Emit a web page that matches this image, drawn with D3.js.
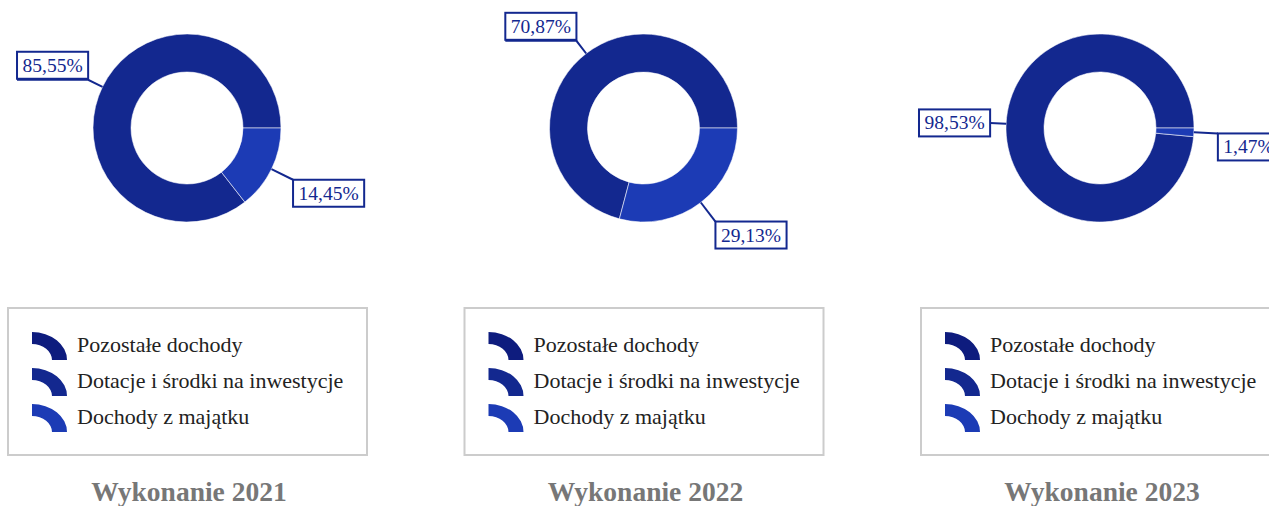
<!DOCTYPE html>
<html>
<head>
<meta charset="utf-8">
<script src="https://cdn.jsdelivr.net/npm/d3@7"></script>
<style>
  body { margin: 0; background: #fff; }
  svg { display: block; font-family: "Liberation Serif", "Times New Roman", serif; }
</style>
</head>
<body>
<div class="canvas"></div>
<script>
const years = ["2021", "2022", "2023"];
const categories = ["Pozostałe dochody", "Dotacje i środki na inwestycje", "Dochody z majątku"];
const pozostale = [0, 0, 0];
const dotacje = [85.55, 70.87, 98.53];
const majatek = [14.45, 29.13, 1.47];
const colors = ["#0e1c7e", "#13288f", "#1c3bb5"];

const width = 1269, height = 506;
const svg = d3.select(".canvas").append("svg").attr("width", width).attr("height", height);

const xScale = d3.scalePoint().domain(years).range([187, 1100]);
const color = d3.scaleOrdinal().domain(categories).range(colors);

const outerR = 94, innerR = 56, cy = 128;
const arc = d3.arc().innerRadius(innerR).outerRadius(outerR);
const pie = d3.pie().sort(null).value((d) => d.value)
  .startAngle(Math.PI / 2).endAngle(Math.PI / 2 - 2 * Math.PI);

const fmt = (v) => v.toFixed(2).replace(".", ",") + "%";

years.forEach((year, i) => {
  const cx = xScale(year);
  const data = [
    { name: categories[0], value: pozostale[i] },
    { name: categories[1], value: dotacje[i] },
    { name: categories[2], value: majatek[i] },
  ];
  const g = svg.append("g").attr("transform", `translate(${cx},${cy})`);
  const arcs = pie(data);

  g.selectAll("path.slice").data(arcs.filter((d) => d.data.value > 0)).enter()
    .append("path")
    .attr("class", "slice")
    .attr("d", arc)
    .attr("fill", (d) => color(d.data.name))
    .attr("stroke", "rgba(255,255,255,0.55)")
    .attr("stroke-width", 1);

  // labels
  arcs.filter((d) => d.data.value > 0).forEach((d) => {
    const a = (d.startAngle + d.endAngle) / 2;
    const ux = Math.sin(a), uy = -Math.cos(a);
    const right = ux > 0;
    const rEnd = right ? 118 : 110;
    const p0 = [ux * outerR, uy * outerR];
    const p1 = [ux * rEnd, uy * rEnd];

    const lg = g.append("g");
    const txt = lg.append("text")
      .attr("font-size", 19.5)
      .attr("fill", "#13288f")
      .attr("text-anchor", "middle")
      .text(fmt(d.data.value));
    const tw = txt.node().getComputedTextLength();
    const bw = tw + 11, bh = 27;
    let bx, by, under = false;
    if (right) {
      bx = p1[0];
      by = p1[1];
    } else {
      bx = p1[0] - bw;
      if (uy < -0.3) { by = p1[1] - bh - 1; under = true; }
      else by = p1[1] - bh / 2;
    }
    const pts = [p0, p1];
    if (under) pts.push([bx, p1[1]]);
    lg.insert("path", "text")
      .attr("d", d3.line()(pts))
      .attr("fill", "none")
      .attr("stroke", "#13288f")
      .attr("stroke-width", 2);
    lg.insert("rect", "text")
      .attr("x", bx).attr("y", by)
      .attr("width", bw).attr("height", bh)
      .attr("fill", "#fff")
      .attr("stroke", "#13288f")
      .attr("stroke-width", 2);
    txt.attr("x", bx + bw / 2).attr("y", by + bh / 2 + 6.5);
  });

  // legend
  const lx = cx - 179, ly = 308;
  const leg = svg.append("g").attr("transform", `translate(${lx},${ly})`);
  leg.append("rect")
    .attr("width", 359).attr("height", 147)
    .attr("fill", "#fff")
    .attr("stroke", "#cccccc")
    .attr("stroke-width", 2);
  const iconArc = d3.arc().innerRadius(16).outerRadius(28).startAngle(0).endAngle(Math.PI / 2);
  const rows = leg.selectAll("g.row").data(categories).enter()
    .append("g")
    .attr("class", "row")
    .attr("transform", (d, j) => `translate(24,${24 + j * 36})`);
  rows.append("path")
    .attr("d", iconArc())
    .attr("transform", "translate(0,28) scale(1.25,1)")
    .attr("fill", (d) => color(d));
  rows.append("text")
    .attr("x", 45)
    .attr("y", 20)
    .attr("font-size", 22)
    .attr("fill", "#222")
    .text((d) => d);

  // title
  svg.append("text")
    .attr("x", cx + 2)
    .attr("y", 501)
    .attr("text-anchor", "middle")
    .attr("font-size", 27.5)
    .attr("font-weight", "bold")
    .attr("fill", "#777")
    .text("Wykonanie " + year);
});
</script>
</body>
</html>
